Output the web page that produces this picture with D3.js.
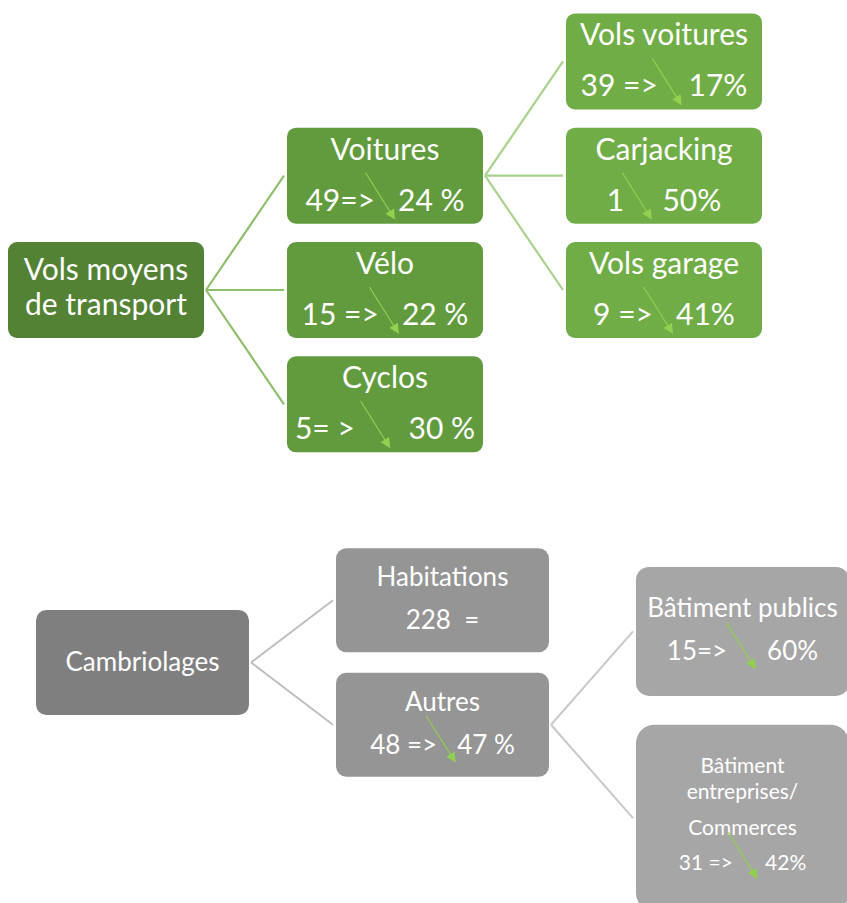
<!DOCTYPE html>
<html>
<head>
<meta charset="utf-8">
<script src="https://cdn.jsdelivr.net/npm/d3@7"></script>
<style>
  html, body { margin: 0; padding: 0; background: #ffffff; }
  svg { display: block; }
  text { font-family: Lato, "Noto Sans", sans-serif; fill: #ffffff; white-space: pre; }
</style>
</head>
<body>
<script>
// ---------- data ----------
const transportNames   = ["Vols moyens|de transport", "Voitures", "Vélo", "Cyclos", "Vols voitures", "Carjacking", "Vols garage"];
const transportParents = [-1, 0, 0, 0, 1, 1, 1];
const transportStats   = ["", "49=>   24 %", "15 =>   22 %", "5= >       30 %", "39 =>    17%", "1     50%", "9 =>   41%"];

const burglaryNames    = ["Cambriolages", "Habitations", "Autres", "Bâtiment publics", "Bâtiment|entreprises/|Commerces"];
const burglaryParents  = [-1, 0, 0, 2, 2];
const burglaryStats    = ["", "228  =", "48 =>   47 %", "15=>      60%", "31 =>      42%"];

// ---------- setup ----------
const W = 847, H = 903;
const svg = d3.select("body").append("svg").attr("width", W).attr("height", H);
const defs = svg.append("defs");
defs.append("marker").attr("id", "ah").attr("viewBox", "0 0 10 10")
  .attr("refX", 9).attr("refY", 5).attr("markerWidth", 12).attr("markerHeight", 10)
  .attr("markerUnits", "userSpaceOnUse").attr("orient", "auto")
  .append("path").attr("d", "M0,0 L10,5 L0,10 Z").attr("fill", "#92d050");

function buildNodes(names, parents, stats, siblingStep) {
  const nodes = names.map((n, i) => ({ i, lines: n.split("|"), parent: parents[i], stats: stats[i], children: [] }));
  nodes.forEach(n => { if (n.parent >= 0) nodes[n.parent].children.push(n); });
  nodes.forEach(n => { n.depth = n.parent < 0 ? 0 : nodes[n.parent].depth + 1; });
  const root = nodes.find(n => n.parent < 0);
  root.row = 0;
  (function place(n) {
    const k = n.children.length;
    n.children.forEach((c, j) => {
      c.row = n.row + (j - (k - 1) / 2) * siblingStep(c.depth);
      place(c);
    });
  })(root);
  return nodes;
}

function drawArrow(g, textSel, str, baseY) {
  // the arrow sits in the widest blank run of the stats string
  const m = [...str.matchAll(/ {2,}/g)].sort((a, b) => b[0].length - a[0].length)[0];
  if (!m) return;
  const el = textSel.node();
  const leftEnd = el.getEndPositionOfChar(m.index - 1).x;
  const rightStart = el.getStartPositionOfChar(m.index + m[0].length).x;
  const cx = (leftEnd + rightStart) / 2 - 6;
  g.append("line")
    .attr("x1", cx - 15).attr("y1", baseY - 38)
    .attr("x2", cx + 14).attr("y2", baseY + 8)
    .attr("stroke", "#92d050").attr("stroke-width", 1.2)
    .attr("marker-end", "url(#ah)");
}

// ---------- green tree: Vols moyens de transport ----------
{
  const nodes = buildNodes(transportNames, transportParents, transportStats, () => 1);
  const x = d3.scaleLinear().domain([0, 2]).range([8, 566]);
  const y = d3.scaleLinear().domain([0, 1]).range([290, 404.3]);
  const bw = 196, bh = 96, fs = 30;
  const fills = ["#548235", "#629b3d", "#70ad47"];
  const linkColors = ["#8fbf6d", "#a9d18e"];
  const g = svg.append("g");

  nodes.filter(n => n.parent >= 0).forEach(n => {
    const p = nodes[n.parent];
    g.append("line")
      .attr("x1", x(p.depth) + bw + 2).attr("y1", y(p.row))
      .attr("x2", x(n.depth) - 3).attr("y2", y(n.row))
      .attr("stroke", linkColors[p.depth]).attr("stroke-width", 2.2);
  });

  nodes.forEach(n => {
    const left = x(n.depth), cy = y(n.row), top = cy - bh / 2, cx = left + bw / 2;
    const ng = g.append("g");
    ng.append("rect").attr("x", left).attr("y", top).attr("width", bw).attr("height", bh)
      .attr("rx", 9).attr("fill", fills[n.depth]);
    if (!n.stats) {
      n.lines.forEach((l, k) => ng.append("text").attr("x", cx).attr("y", cy - 10 + k * 35)
        .attr("text-anchor", "middle").attr("font-size", fs).text(l));
    } else {
      ng.append("text").attr("x", cx).attr("y", cy - 16).attr("text-anchor", "middle")
        .attr("font-size", fs).text(n.lines[0]);
      const t = ng.append("text").attr("x", cx).attr("y", cy + 35).attr("text-anchor", "middle")
        .attr("font-size", fs).text(n.stats);
      drawArrow(ng, t, n.stats, cy + 35);
    }
  });
}

// ---------- gray tree: Cambriolages ----------
{
  const nodes = buildNodes(burglaryNames, burglaryParents, burglaryStats, d => d === 2 ? 1.5 : 1);
  const x = d3.scaleLinear().domain([0, 2]).range([36, 636]);
  const y = d3.scaleLinear().domain([0, 1]).range([662.5, 787]);
  const bw = 213, fs = 26, fsSmall = 21;
  const heightOf = n => n.depth === 0 ? 105 : n.depth === 1 ? 104 : 71 + 29 * (n.lines.length + 1);
  const fills = ["#7f7f7f", "#959595", "#a6a6a6"];
  const linkColors = ["#bfbfbf", "#c9c9c9"];
  const g = svg.append("g");

  nodes.filter(n => n.parent >= 0).forEach(n => {
    const p = nodes[n.parent];
    g.append("line")
      .attr("x1", x(p.depth) + bw + 2).attr("y1", y(p.row))
      .attr("x2", x(n.depth) - 3).attr("y2", y(n.row))
      .attr("stroke", linkColors[p.depth]).attr("stroke-width", 2);
  });

  nodes.forEach(n => {
    const left = x(n.depth), cy = y(n.row), bh = heightOf(n), top = cy - bh / 2, cx = left + bw / 2;
    const ng = g.append("g");
    ng.append("rect").attr("x", left).attr("y", top).attr("width", bw).attr("height", bh)
      .attr("rx", Math.min(bw, bh) * 0.1).attr("fill", fills[n.depth]);
    if (!n.stats) {
      ng.append("text").attr("x", cx).attr("y", cy + 8).attr("text-anchor", "middle")
        .attr("font-size", fs).text(n.lines[0]);
    } else if (n.lines.length === 1) {
      ng.append("text").attr("x", cx).attr("y", cy - 14).attr("text-anchor", "middle")
        .attr("font-size", fs).text(n.lines[0]);
      const t = ng.append("text").attr("x", cx).attr("y", cy + 29).attr("text-anchor", "middle")
        .attr("font-size", fs).text(n.stats);
      if (n.stats.includes("%")) drawArrow(ng, t, n.stats, cy + 29);
    } else {
      const steps = [0, 26, 62];
      n.lines.forEach((l, k) => ng.append("text").attr("x", cx).attr("y", cy - 45 + steps[k])
        .attr("text-anchor", "middle").attr("font-size", fsSmall).text(l));
      const t = ng.append("text").attr("x", cx).attr("y", cy + 52).attr("text-anchor", "middle")
        .attr("font-size", fsSmall).text(n.stats);
      if (n.stats.includes("%")) drawArrow(ng, t, n.stats, cy + 52);
    }
  });
}
</script>
</body>
</html>
